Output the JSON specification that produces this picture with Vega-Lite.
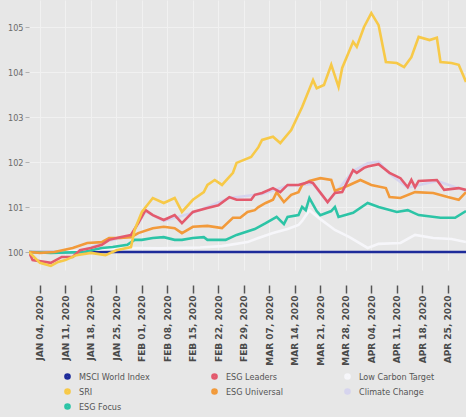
{
  "$schema": "https://vega.github.io/schema/vega-lite/v6.json",
  "width": 437,
  "height": 270,
  "autosize": "none",
  "padding": {"left": 29, "top": 0, "right": 0, "bottom": 147},
  "background": "#e7e7e7",
  "config": {
    "view": {"stroke": null},
    "axis": {"domain": false, "gridColor": "#f1f1f1", "gridWidth": 1}
  },
  "data": {
    "format": {"parse": {"d": "date:'%Y-%m-%d'"}},
    "values": [
      {"s": "MSCI World Index", "d": "2020-01-01", "v": 100},
      {"s": "MSCI World Index", "d": "2020-04-30", "v": 100},

      {"s": "Climate Change", "d": "2020-01-01", "v": 100},
      {"s": "Climate Change", "d": "2020-01-09", "v": 100},
      {"s": "Climate Change", "d": "2020-01-15", "v": 100.02},
      {"s": "Climate Change", "d": "2020-01-23", "v": 100.25},
      {"s": "Climate Change", "d": "2020-01-29", "v": 100.36},
      {"s": "Climate Change", "d": "2020-02-02", "v": 100.9},
      {"s": "Climate Change", "d": "2020-02-07", "v": 100.69},
      {"s": "Climate Change", "d": "2020-02-15", "v": 100.87},
      {"s": "Climate Change", "d": "2020-02-25", "v": 101.2},
      {"s": "Climate Change", "d": "2020-03-05", "v": 101.29},
      {"s": "Climate Change", "d": "2020-03-12", "v": 101.47},
      {"s": "Climate Change", "d": "2020-03-19", "v": 101.51},
      {"s": "Climate Change", "d": "2020-03-23", "v": 101.1},
      {"s": "Climate Change", "d": "2020-03-30", "v": 101.8},
      {"s": "Climate Change", "d": "2020-04-03", "v": 101.97},
      {"s": "Climate Change", "d": "2020-04-06", "v": 102.01},
      {"s": "Climate Change", "d": "2020-04-09", "v": 101.74},
      {"s": "Climate Change", "d": "2020-04-14", "v": 101.43},
      {"s": "Climate Change", "d": "2020-04-22", "v": 101.58},
      {"s": "Climate Change", "d": "2020-04-30", "v": 101.36},

      {"s": "Low Carbon Target", "d": "2020-01-01", "v": 100},
      {"s": "Low Carbon Target", "d": "2020-01-09", "v": 100.0},
      {"s": "Low Carbon Target", "d": "2020-01-21", "v": 100.06},
      {"s": "Low Carbon Target", "d": "2020-01-29", "v": 100.09},
      {"s": "Low Carbon Target", "d": "2020-02-06", "v": 100.08},
      {"s": "Low Carbon Target", "d": "2020-02-17", "v": 100.1},
      {"s": "Low Carbon Target", "d": "2020-02-23", "v": 100.13},
      {"s": "Low Carbon Target", "d": "2020-03-01", "v": 100.22},
      {"s": "Low Carbon Target", "d": "2020-03-04", "v": 100.31},
      {"s": "Low Carbon Target", "d": "2020-03-08", "v": 100.42},
      {"s": "Low Carbon Target", "d": "2020-03-12", "v": 100.51},
      {"s": "Low Carbon Target", "d": "2020-03-15", "v": 100.6},
      {"s": "Low Carbon Target", "d": "2020-03-16", "v": 100.69},
      {"s": "Low Carbon Target", "d": "2020-03-18", "v": 100.93},
      {"s": "Low Carbon Target", "d": "2020-03-21", "v": 100.73},
      {"s": "Low Carbon Target", "d": "2020-03-25", "v": 100.49},
      {"s": "Low Carbon Target", "d": "2020-03-29", "v": 100.33},
      {"s": "Low Carbon Target", "d": "2020-04-03", "v": 100.09},
      {"s": "Low Carbon Target", "d": "2020-04-06", "v": 100.18},
      {"s": "Low Carbon Target", "d": "2020-04-12", "v": 100.2},
      {"s": "Low Carbon Target", "d": "2020-04-16", "v": 100.38},
      {"s": "Low Carbon Target", "d": "2020-04-21", "v": 100.31},
      {"s": "Low Carbon Target", "d": "2020-04-26", "v": 100.29},
      {"s": "Low Carbon Target", "d": "2020-04-30", "v": 100.22},

      {"s": "ESG Focus", "d": "2020-01-01", "v": 100},
      {"s": "ESG Focus", "d": "2020-01-07", "v": 99.98},
      {"s": "ESG Focus", "d": "2020-01-16", "v": 100},
      {"s": "ESG Focus", "d": "2020-01-21", "v": 100.09},
      {"s": "ESG Focus", "d": "2020-01-24", "v": 100.11},
      {"s": "ESG Focus", "d": "2020-01-28", "v": 100.16},
      {"s": "ESG Focus", "d": "2020-01-30", "v": 100.27},
      {"s": "ESG Focus", "d": "2020-02-01", "v": 100.27},
      {"s": "ESG Focus", "d": "2020-02-04", "v": 100.31},
      {"s": "ESG Focus", "d": "2020-02-07", "v": 100.33},
      {"s": "ESG Focus", "d": "2020-02-10", "v": 100.27},
      {"s": "ESG Focus", "d": "2020-02-12", "v": 100.27},
      {"s": "ESG Focus", "d": "2020-02-15", "v": 100.31},
      {"s": "ESG Focus", "d": "2020-02-18", "v": 100.33},
      {"s": "ESG Focus", "d": "2020-02-19", "v": 100.27},
      {"s": "ESG Focus", "d": "2020-02-24", "v": 100.27},
      {"s": "ESG Focus", "d": "2020-02-27", "v": 100.38},
      {"s": "ESG Focus", "d": "2020-03-03", "v": 100.51},
      {"s": "ESG Focus", "d": "2020-03-06", "v": 100.64},
      {"s": "ESG Focus", "d": "2020-03-09", "v": 100.78},
      {"s": "ESG Focus", "d": "2020-03-11", "v": 100.62},
      {"s": "ESG Focus", "d": "2020-03-12", "v": 100.78},
      {"s": "ESG Focus", "d": "2020-03-15", "v": 100.82},
      {"s": "ESG Focus", "d": "2020-03-16", "v": 101.0},
      {"s": "ESG Focus", "d": "2020-03-17", "v": 100.93},
      {"s": "ESG Focus", "d": "2020-03-18", "v": 101.2},
      {"s": "ESG Focus", "d": "2020-03-20", "v": 100.91},
      {"s": "ESG Focus", "d": "2020-03-21", "v": 100.82},
      {"s": "ESG Focus", "d": "2020-03-24", "v": 100.91},
      {"s": "ESG Focus", "d": "2020-03-25", "v": 101.0},
      {"s": "ESG Focus", "d": "2020-03-26", "v": 100.78},
      {"s": "ESG Focus", "d": "2020-03-30", "v": 100.87},
      {"s": "ESG Focus", "d": "2020-04-03", "v": 101.09},
      {"s": "ESG Focus", "d": "2020-04-06", "v": 101.0},
      {"s": "ESG Focus", "d": "2020-04-11", "v": 100.89},
      {"s": "ESG Focus", "d": "2020-04-14", "v": 100.93},
      {"s": "ESG Focus", "d": "2020-04-17", "v": 100.82},
      {"s": "ESG Focus", "d": "2020-04-23", "v": 100.76},
      {"s": "ESG Focus", "d": "2020-04-27", "v": 100.76},
      {"s": "ESG Focus", "d": "2020-04-30", "v": 100.91},

      {"s": "ESG Universal", "d": "2020-01-01", "v": 100},
      {"s": "ESG Universal", "d": "2020-01-04", "v": 99.98},
      {"s": "ESG Universal", "d": "2020-01-08", "v": 100.0},
      {"s": "ESG Universal", "d": "2020-01-13", "v": 100.09},
      {"s": "ESG Universal", "d": "2020-01-17", "v": 100.2},
      {"s": "ESG Universal", "d": "2020-01-21", "v": 100.22},
      {"s": "ESG Universal", "d": "2020-01-23", "v": 100.31},
      {"s": "ESG Universal", "d": "2020-01-26", "v": 100.31},
      {"s": "ESG Universal", "d": "2020-01-29", "v": 100.33},
      {"s": "ESG Universal", "d": "2020-01-31", "v": 100.42},
      {"s": "ESG Universal", "d": "2020-02-04", "v": 100.53},
      {"s": "ESG Universal", "d": "2020-02-07", "v": 100.56},
      {"s": "ESG Universal", "d": "2020-02-10", "v": 100.53},
      {"s": "ESG Universal", "d": "2020-02-12", "v": 100.42},
      {"s": "ESG Universal", "d": "2020-02-15", "v": 100.56},
      {"s": "ESG Universal", "d": "2020-02-19", "v": 100.58},
      {"s": "ESG Universal", "d": "2020-02-23", "v": 100.53},
      {"s": "ESG Universal", "d": "2020-02-26", "v": 100.76},
      {"s": "ESG Universal", "d": "2020-02-28", "v": 100.76},
      {"s": "ESG Universal", "d": "2020-03-01", "v": 100.89},
      {"s": "ESG Universal", "d": "2020-03-03", "v": 100.93},
      {"s": "ESG Universal", "d": "2020-03-04", "v": 101.0},
      {"s": "ESG Universal", "d": "2020-03-06", "v": 101.09},
      {"s": "ESG Universal", "d": "2020-03-08", "v": 101.16},
      {"s": "ESG Universal", "d": "2020-03-09", "v": 101.33},
      {"s": "ESG Universal", "d": "2020-03-11", "v": 101.11},
      {"s": "ESG Universal", "d": "2020-03-13", "v": 101.27},
      {"s": "ESG Universal", "d": "2020-03-15", "v": 101.33},
      {"s": "ESG Universal", "d": "2020-03-16", "v": 101.49},
      {"s": "ESG Universal", "d": "2020-03-18", "v": 101.58},
      {"s": "ESG Universal", "d": "2020-03-21", "v": 101.64},
      {"s": "ESG Universal", "d": "2020-03-24", "v": 101.6},
      {"s": "ESG Universal", "d": "2020-03-25", "v": 101.36},
      {"s": "ESG Universal", "d": "2020-03-27", "v": 101.42},
      {"s": "ESG Universal", "d": "2020-03-29", "v": 101.49},
      {"s": "ESG Universal", "d": "2020-04-01", "v": 101.6},
      {"s": "ESG Universal", "d": "2020-04-04", "v": 101.49},
      {"s": "ESG Universal", "d": "2020-04-08", "v": 101.42},
      {"s": "ESG Universal", "d": "2020-04-09", "v": 101.22},
      {"s": "ESG Universal", "d": "2020-04-12", "v": 101.2},
      {"s": "ESG Universal", "d": "2020-04-16", "v": 101.33},
      {"s": "ESG Universal", "d": "2020-04-21", "v": 101.31},
      {"s": "ESG Universal", "d": "2020-04-25", "v": 101.22},
      {"s": "ESG Universal", "d": "2020-04-28", "v": 101.16},
      {"s": "ESG Universal", "d": "2020-04-30", "v": 101.33},

      {"s": "ESG Leaders", "d": "2020-01-01", "v": 100},
      {"s": "ESG Leaders", "d": "2020-01-02", "v": 99.82},
      {"s": "ESG Leaders", "d": "2020-01-07", "v": 99.76},
      {"s": "ESG Leaders", "d": "2020-01-10", "v": 99.89},
      {"s": "ESG Leaders", "d": "2020-01-13", "v": 99.89},
      {"s": "ESG Leaders", "d": "2020-01-15", "v": 100.04},
      {"s": "ESG Leaders", "d": "2020-01-18", "v": 100.09},
      {"s": "ESG Leaders", "d": "2020-01-21", "v": 100.16},
      {"s": "ESG Leaders", "d": "2020-01-23", "v": 100.27},
      {"s": "ESG Leaders", "d": "2020-01-26", "v": 100.33},
      {"s": "ESG Leaders", "d": "2020-01-29", "v": 100.38},
      {"s": "ESG Leaders", "d": "2020-01-31", "v": 100.64},
      {"s": "ESG Leaders", "d": "2020-02-02", "v": 100.93},
      {"s": "ESG Leaders", "d": "2020-02-04", "v": 100.82},
      {"s": "ESG Leaders", "d": "2020-02-07", "v": 100.71},
      {"s": "ESG Leaders", "d": "2020-02-10", "v": 100.82},
      {"s": "ESG Leaders", "d": "2020-02-12", "v": 100.64},
      {"s": "ESG Leaders", "d": "2020-02-15", "v": 100.89},
      {"s": "ESG Leaders", "d": "2020-02-19", "v": 100.98},
      {"s": "ESG Leaders", "d": "2020-02-22", "v": 101.04},
      {"s": "ESG Leaders", "d": "2020-02-25", "v": 101.22},
      {"s": "ESG Leaders", "d": "2020-02-27", "v": 101.16},
      {"s": "ESG Leaders", "d": "2020-03-02", "v": 101.16},
      {"s": "ESG Leaders", "d": "2020-03-03", "v": 101.27},
      {"s": "ESG Leaders", "d": "2020-03-05", "v": 101.31},
      {"s": "ESG Leaders", "d": "2020-03-08", "v": 101.42},
      {"s": "ESG Leaders", "d": "2020-03-10", "v": 101.33},
      {"s": "ESG Leaders", "d": "2020-03-12", "v": 101.49},
      {"s": "ESG Leaders", "d": "2020-03-15", "v": 101.49},
      {"s": "ESG Leaders", "d": "2020-03-18", "v": 101.56},
      {"s": "ESG Leaders", "d": "2020-03-19", "v": 101.53},
      {"s": "ESG Leaders", "d": "2020-03-23", "v": 101.11},
      {"s": "ESG Leaders", "d": "2020-03-25", "v": 101.31},
      {"s": "ESG Leaders", "d": "2020-03-27", "v": 101.33},
      {"s": "ESG Leaders", "d": "2020-03-30", "v": 101.82},
      {"s": "ESG Leaders", "d": "2020-03-31", "v": 101.76},
      {"s": "ESG Leaders", "d": "2020-04-02", "v": 101.87},
      {"s": "ESG Leaders", "d": "2020-04-03", "v": 101.9},
      {"s": "ESG Leaders", "d": "2020-04-06", "v": 101.95},
      {"s": "ESG Leaders", "d": "2020-04-09", "v": 101.76},
      {"s": "ESG Leaders", "d": "2020-04-12", "v": 101.64},
      {"s": "ESG Leaders", "d": "2020-04-14", "v": 101.44},
      {"s": "ESG Leaders", "d": "2020-04-15", "v": 101.6},
      {"s": "ESG Leaders", "d": "2020-04-16", "v": 101.44},
      {"s": "ESG Leaders", "d": "2020-04-17", "v": 101.58},
      {"s": "ESG Leaders", "d": "2020-04-22", "v": 101.6},
      {"s": "ESG Leaders", "d": "2020-04-24", "v": 101.38},
      {"s": "ESG Leaders", "d": "2020-04-28", "v": 101.42},
      {"s": "ESG Leaders", "d": "2020-04-30", "v": 101.38},

      {"s": "SRI", "d": "2020-01-01", "v": 100},
      {"s": "SRI", "d": "2020-01-04", "v": 99.76},
      {"s": "SRI", "d": "2020-01-07", "v": 99.69},
      {"s": "SRI", "d": "2020-01-09", "v": 99.78},
      {"s": "SRI", "d": "2020-01-11", "v": 99.82},
      {"s": "SRI", "d": "2020-01-14", "v": 99.93},
      {"s": "SRI", "d": "2020-01-18", "v": 99.98},
      {"s": "SRI", "d": "2020-01-22", "v": 99.93},
      {"s": "SRI", "d": "2020-01-25", "v": 100.04},
      {"s": "SRI", "d": "2020-01-29", "v": 100.11},
      {"s": "SRI", "d": "2020-01-30", "v": 100.49},
      {"s": "SRI", "d": "2020-02-01", "v": 100.89},
      {"s": "SRI", "d": "2020-02-04", "v": 101.2},
      {"s": "SRI", "d": "2020-02-07", "v": 101.09},
      {"s": "SRI", "d": "2020-02-10", "v": 101.2},
      {"s": "SRI", "d": "2020-02-12", "v": 100.89},
      {"s": "SRI", "d": "2020-02-15", "v": 101.16},
      {"s": "SRI", "d": "2020-02-18", "v": 101.33},
      {"s": "SRI", "d": "2020-02-19", "v": 101.49},
      {"s": "SRI", "d": "2020-02-21", "v": 101.6},
      {"s": "SRI", "d": "2020-02-23", "v": 101.49},
      {"s": "SRI", "d": "2020-02-26", "v": 101.76},
      {"s": "SRI", "d": "2020-02-27", "v": 101.98},
      {"s": "SRI", "d": "2020-03-02", "v": 102.11},
      {"s": "SRI", "d": "2020-03-04", "v": 102.33},
      {"s": "SRI", "d": "2020-03-05", "v": 102.49},
      {"s": "SRI", "d": "2020-03-08", "v": 102.56},
      {"s": "SRI", "d": "2020-03-10", "v": 102.42},
      {"s": "SRI", "d": "2020-03-13", "v": 102.71},
      {"s": "SRI", "d": "2020-03-16", "v": 103.22},
      {"s": "SRI", "d": "2020-03-19", "v": 103.82},
      {"s": "SRI", "d": "2020-03-20", "v": 103.64},
      {"s": "SRI", "d": "2020-03-22", "v": 103.71},
      {"s": "SRI", "d": "2020-03-24", "v": 104.16},
      {"s": "SRI", "d": "2020-03-26", "v": 103.67},
      {"s": "SRI", "d": "2020-03-27", "v": 104.09},
      {"s": "SRI", "d": "2020-03-30", "v": 104.67},
      {"s": "SRI", "d": "2020-03-31", "v": 104.56},
      {"s": "SRI", "d": "2020-04-02", "v": 105.0},
      {"s": "SRI", "d": "2020-04-04", "v": 105.31},
      {"s": "SRI", "d": "2020-04-06", "v": 105.04},
      {"s": "SRI", "d": "2020-04-08", "v": 104.22},
      {"s": "SRI", "d": "2020-04-11", "v": 104.2},
      {"s": "SRI", "d": "2020-04-13", "v": 104.11},
      {"s": "SRI", "d": "2020-04-15", "v": 104.33},
      {"s": "SRI", "d": "2020-04-17", "v": 104.78},
      {"s": "SRI", "d": "2020-04-20", "v": 104.71},
      {"s": "SRI", "d": "2020-04-22", "v": 104.76},
      {"s": "SRI", "d": "2020-04-23", "v": 104.22},
      {"s": "SRI", "d": "2020-04-26", "v": 104.2},
      {"s": "SRI", "d": "2020-04-28", "v": 104.16},
      {"s": "SRI", "d": "2020-04-30", "v": 103.78}
    ]
  },
  "mark": {"type": "line", "strokeWidth": 2.6, "clip": true},
  "encoding": {
    "x": {
      "field": "d",
      "type": "temporal",
      "scale": {"domain": [{"year": 2020, "month": 1, "date": 1}, {"year": 2020, "month": 4, "date": 30}]},
      "axis": {
        "title": null,
        "values": [
          {"year": 2020, "month": 1, "date": 4}, {"year": 2020, "month": 1, "date": 11},
          {"year": 2020, "month": 1, "date": 18}, {"year": 2020, "month": 1, "date": 25},
          {"year": 2020, "month": 2, "date": 1}, {"year": 2020, "month": 2, "date": 8},
          {"year": 2020, "month": 2, "date": 15}, {"year": 2020, "month": 2, "date": 22},
          {"year": 2020, "month": 2, "date": 29}, {"year": 2020, "month": 3, "date": 7},
          {"year": 2020, "month": 3, "date": 14}, {"year": 2020, "month": 3, "date": 21},
          {"year": 2020, "month": 3, "date": 28}, {"year": 2020, "month": 4, "date": 4},
          {"year": 2020, "month": 4, "date": 11}, {"year": 2020, "month": 4, "date": 18},
          {"year": 2020, "month": 4, "date": 25}
        ],
        "labelExpr": "upper(timeFormat(datum.value, '%b %d, %Y'))",
        "labelAngle": 270,
        "labelFont": "DejaVu Sans",
        "labelFontWeight": "bold",
        "labelFontSize": 9,
        "labelColor": "#4a4a4a",
        "labelPadding": 2,
        "labelOverlap": false,
        "labelBound": false,
        "labelFlush": false,
        "offset": 15,
        "tickSize": 8,
        "tickWidth": 1.5,
        "tickColor": "#555555",
        "grid": true
      }
    },
    "y": {
      "field": "v",
      "type": "quantitative",
      "scale": {"domain": [99.6, 105.6], "nice": false, "zero": false},
      "axis": {
        "title": null,
        "values": [100, 101, 102, 103, 104, 105],
        "format": "d",
        "labelFont": "DejaVu Sans Condensed, Liberation Sans Narrow, Roboto",
        "labelFontSize": 9,
        "labelColor": "#6a6a6a",
        "labelPadding": 2,
        "tickSize": 4,
        "tickColor": "#b0b0b0",
        "grid": true
      }
    },
    "color": {
      "field": "s",
      "type": "nominal",
      "scale": {
        "domain": ["MSCI World Index", "SRI", "Climate Change", "ESG Leaders", "ESG Universal", "ESG Focus", "Low Carbon Target"],
        "range": ["#1d2b9a", "#f7c948", "#d6d4ee", "#e35a6d", "#f29a3a", "#2cc4a6", "#f6f6fa"]
      },
      "legend": {
        "title": null,
        "orient": "none",
        "legendX": 34,
        "legendY": 370,
        "columns": 3,
        "gridAlign": "each",
        "columnPadding": 60,
        "rowPadding": 2,
        "clipHeight": 13,
        "padding": 0,
        "symbolType": "circle",
        "symbolSize": 10,
        "symbolStrokeWidth": 3.5,
        "labelFont": "DejaVu Sans Condensed, Liberation Sans Narrow, Roboto",
        "labelFontSize": 9,
        "labelColor": "#555555",
        "labelOffset": 7
      }
    },
    "strokeWidth": {
      "condition": {"test": "datum.s === 'MSCI World Index'", "value": 3},
      "value": 2.6
    }
  }
}
